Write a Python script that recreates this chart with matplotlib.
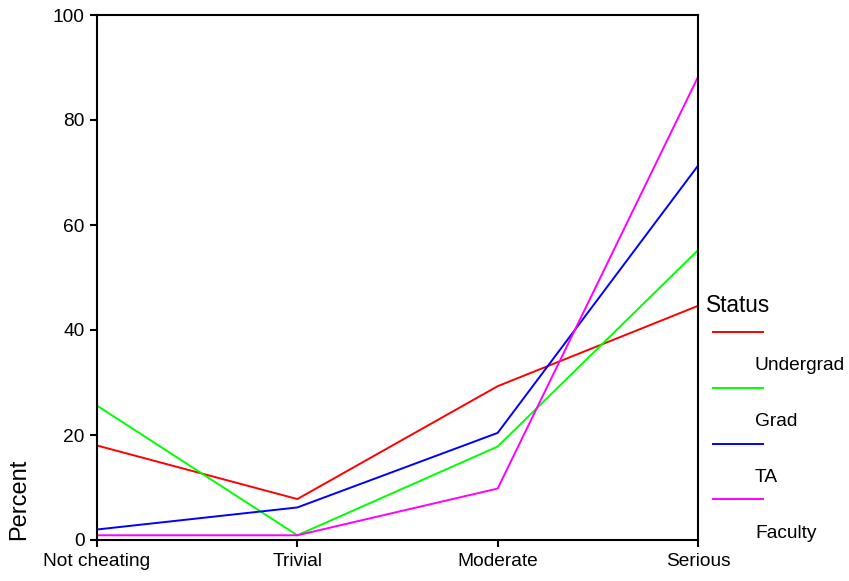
import matplotlib
matplotlib.use("Agg")
import matplotlib.pyplot as plt
from matplotlib.lines import Line2D

plt.rcParams['font.family'] = ['Liberation Sans', 'DejaVu Sans']

categories = ["Not cheating", "Trivial", "Moderate", "Serious"]
statuses = ["Undergrad", "Grad", "TA", "Faculty"]
undergrad = [18.0, 7.8, 29.3, 44.6]
grad = [25.6, 0.9, 17.8, 55.2]
ta = [2.0, 6.2, 20.4, 71.3]
faculty = [0.9, 0.9, 9.8, 88.2]
colors = ["#ff0000", "#00ff00", "#0000ff", "#ff00ff"]

W, H = 849, 581
fig = plt.figure(figsize=(W / 100, H / 100), dpi=100)
ax = fig.add_axes([97 / W, 41 / H, 601 / W, 525 / H])

x = list(range(len(categories)))
for vals, c in zip([undergrad, grad, ta, faculty], colors):
    ax.plot(x, vals, color=c, lw=1.4)

ax.set_xlim(0, 3)
ax.set_ylim(0, 100)
ax.set_xticks(x)
ax.set_xticklabels(categories)
ax.set_yticks([0, 20, 40, 60, 80, 100])
ax.tick_params(direction='out', length=5, width=1.5, labelsize=13.8, pad=4)
for s in ax.spines.values():
    s.set_linewidth(1.5)
ax.set_ylabel("Percent", fontsize=17, loc='bottom', labelpad=16)

# legend, SPSS style: line then label underneath
fig.text(706 / W, 1 - 305 / H, "Status", fontsize=16.3, va='center', ha='left')
line_y = [332, 388, 444, 499]
for lab, c, ly in zip(statuses, colors, line_y):
    yy = 1 - ly / H
    fig.add_artist(Line2D([713 / W, 763 / W], [yy, yy], color=c, lw=1.4))
    fig.text(755 / W, 1 - (ly + 34) / H, lab, fontsize=13.8, va='center', ha='left')

fig.savefig("out.png", dpi=100)
